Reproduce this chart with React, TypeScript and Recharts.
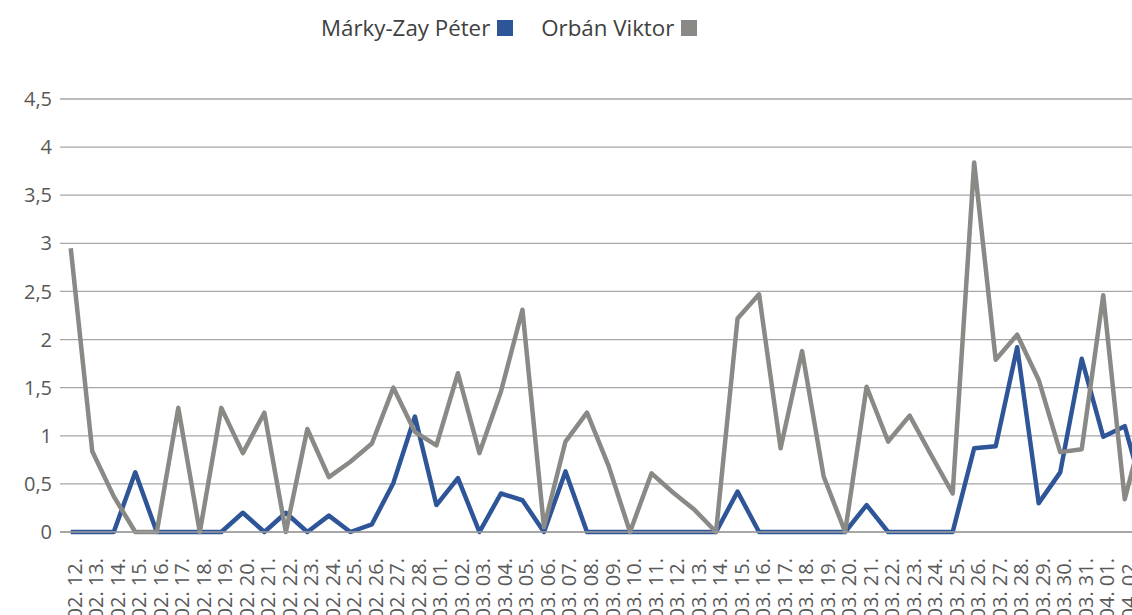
import React from "react";
import { LineChart, Line, XAxis, YAxis, CartesianGrid } from "recharts";

const categories = [
  "02. 12.", "02. 13.", "02. 14.", "02. 15.", "02. 16.", "02. 17.", "02. 18.", "02. 19.", "02. 20.", "02. 21.",
  "02. 22.", "02. 23.", "02. 24.", "02. 25.", "02. 26.", "02. 27.", "02. 28.",
  "03. 01.", "03. 02.", "03. 03.", "03. 04.", "03. 05.", "03. 06.", "03. 07.", "03. 08.", "03. 09.", "03. 10.",
  "03. 11.", "03. 12.", "03. 13.", "03. 14.", "03. 15.", "03. 16.", "03. 17.", "03. 18.", "03. 19.", "03. 20.",
  "03. 21.", "03. 22.", "03. 23.", "03. 24.", "03. 25.", "03. 26.", "03. 27.", "03. 28.", "03. 29.", "03. 30.",
  "03. 31.", "04. 01.", "04. 02.", "04. 03.",
];

const markyZay = [
  0, 0, 0, 0.62, 0, 0, 0, 0, 0.2, 0,
  0.2, 0, 0.17, 0, 0.08, 0.51, 1.2,
  0.28, 0.56, 0, 0.4, 0.33, 0, 0.63, 0, 0, 0,
  0, 0, 0, 0, 0.42, 0, 0, 0, 0, 0,
  0.28, 0, 0, 0, 0, 0.87, 0.89, 1.92, 0.3, 0.62,
  1.8, 0.99, 1.1, 0.3,
];

const orban = [
  2.95, 0.84, 0.37, 0, 0, 1.29, 0, 1.29, 0.82, 1.24,
  0, 1.07, 0.57, 0.73, 0.92, 1.5, 1.04,
  0.9, 1.65, 0.82, 1.46, 2.31, 0.05, 0.94, 1.24, 0.69, 0,
  0.61, 0.41, 0.23, 0, 2.22, 2.47, 0.87, 1.88, 0.58, 0,
  1.51, 0.94, 1.21, 0.8, 0.4, 3.84, 1.79, 2.05, 1.58, 0.83,
  0.86, 2.46, 0.34, 1.2,
];

const yTicks = [0, 0.5, 1, 1.5, 2, 2.5, 3, 3.5, 4, 4.5];

const seriesNames = ["Márky-Zay Péter", "Orbán Viktor"];
const BLUE = "#2e5597";
const GRAY = "#898985";
const FONT = "'Open Sans', 'Noto Sans', sans-serif";

const data = categories.map((c, i) => ({
  date: c,
  marky: markyZay[i],
  orban: orban[i],
}));

const XTick = (props: any) => {
  const { x, y, payload } = props;
  if (payload.value === categories[categories.length - 1]) return null;
  const tx = x + 4;
  const ty = y + 26;
  return (
    <text
      x={tx}
      y={ty}
      transform={`rotate(-90, ${tx}, ${ty})`}
      textAnchor="end"
      dy="0.35em"
      fontSize={20}
      fill="#595959"
      fontFamily={FONT}
    >
      {payload.value}
    </text>
  );
};

export default function App() {
  return (
    <div
      style={{
        position: "absolute",
        left: 0,
        top: 0,
        width: 1132,
        height: 615,
        overflow: "hidden",
        background: "#fff",
        fontFamily: FONT,
      }}
    >
      <div
        style={{
          position: "absolute",
          left: 321,
          top: 12,
          display: "flex",
          alignItems: "center",
          fontSize: 22.3,
          lineHeight: "32px",
          color: "#404040",
          whiteSpace: "nowrap",
        }}
      >
        <span>{seriesNames[0]}</span>
        <span style={{ display: "inline-block", width: 16, height: 16, background: BLUE, marginLeft: 7 }} />
        <span style={{ marginLeft: 28 }}>{seriesNames[1]}</span>
        <span style={{ display: "inline-block", width: 16, height: 16, background: GRAY, marginLeft: 7 }} />
      </div>
      <LineChart
        width={1157}
        height={615}
        data={data}
        margin={{ top: 99, right: 0, bottom: 0, left: 0 }}
      >
        <CartesianGrid vertical={false} stroke="#a6a6a6" strokeWidth={1.3} />
        <XAxis
          dataKey="date"
          scale="point"
          padding={{ left: 10.75, right: 10.75 }}
          interval={0}
          height={83}
          tickLine={false}
          tickSize={0}
          tickMargin={0}
          axisLine={{ stroke: "#a0a0a0", strokeWidth: 1.5 }}
          tick={<XTick />}
        />
        <YAxis
          width={60}
          domain={[0, 4.5]}
          ticks={yTicks}
          interval={0}
          axisLine={false}
          tickLine={false}
          tickSize={0}
          tickMargin={8}
          tick={{ fill: "#595959", fontSize: 20, fontFamily: FONT }}
          tickFormatter={(v: number) => String(v).replace(".", ",")}
        />
        <Line
          type="linear"
          dataKey="marky"
          stroke={BLUE}
          strokeWidth={4.5}
          dot={false}
          isAnimationActive={false}
          strokeLinejoin="round"
        />
        <Line
          type="linear"
          dataKey="orban"
          stroke={GRAY}
          strokeWidth={4.5}
          dot={false}
          isAnimationActive={false}
          strokeLinejoin="round"
        />
      </LineChart>
    </div>
  );
}
